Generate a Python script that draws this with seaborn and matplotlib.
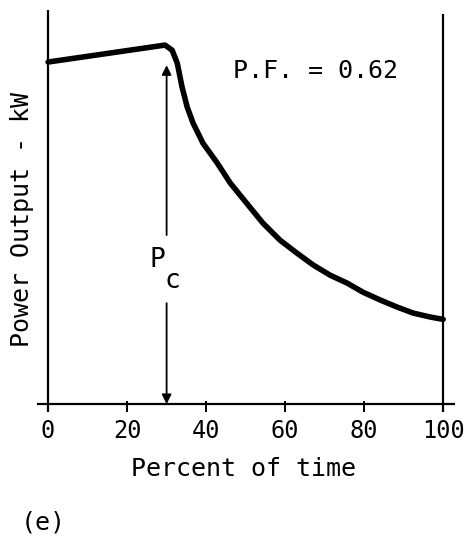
import matplotlib
matplotlib.use("Agg")
import matplotlib.pyplot as plt
import seaborn as sns
import pandas as pd

sns.set_theme(style="white")
plt.rcParams['font.family'] = ['DejaVu Sans Mono', 'DejaVu Sans']
plt.rcParams['text.color'] = 'black'
plt.rcParams['axes.labelcolor'] = 'black'
plt.rcParams['xtick.color'] = 'black'
plt.rcParams['ytick.color'] = 'black'

# Data (percent of time vs. relative power output)
time_pct = [0.0, 29.6, 31.4, 32.7, 33.9, 35.2, 36.7, 39.2, 42.8, 46.1, 50.4,
            54.4, 58.7, 63.0, 67.1, 71.4, 75.7, 79.7, 84.1, 88.4, 92.4, 96.7, 100.0]
power = [86.8, 91.1, 89.8, 86.5, 80.5, 75.4, 71.3, 66.2, 61.2, 56.1, 50.8,
         45.9, 41.6, 38.3, 35.3, 32.7, 30.7, 28.4, 26.4, 24.6, 23.1, 22.1, 21.5]
xticks = [0, 20, 40, 60, 80, 100]
pc_x = 30.0
pc_top = 86.0
gap_top = 42.9
gap_bottom = 25.6

df = pd.DataFrame({"t": time_pct, "p": power})

fig = plt.figure(figsize=(4.71, 5.53), dpi=100)
ax = fig.add_axes([0.0786, 0.2550, 0.8875, 0.7269])

sns.lineplot(data=df, x="t", y="p", ax=ax, color="black", linewidth=4.0,
             solid_capstyle="round", solid_joinstyle="round")

ax.set_xlim(-2.8, 103)
ax.set_ylim(-2.0, 100)
for s in ax.spines.values():
    s.set_visible(False)

# axes lines
ax.axhline(0, color="black", linewidth=1.6)
ax.vlines([0], -2.0, 100, color="black", linewidth=1.6)
ax.vlines([100], -2.0, 99, color="black", linewidth=1.6)

ax.set_xticks(xticks)
ax.set_xticklabels([str(v) for v in xticks])
ax.set_yticks([])
ax.tick_params(axis="x", direction="in", length=8, width=1.4, color="black",
               pad=5, labelsize=17, bottom=True, labelcolor="black")

ax.set_xlabel("Percent of time", fontsize=18, labelpad=0, color="black")
ax.xaxis.set_label_coords(0.495, -0.113)
ax.set_ylabel("Power Output - kW", fontsize=18, va="center", color="black")
ax.yaxis.set_label_coords(-0.036, 0.48)

# Pc arrows
ax.annotate("", xy=(pc_x, pc_top), xytext=(pc_x, gap_top),
            arrowprops=dict(arrowstyle="-|>", color="black", lw=1.3,
                            mutation_scale=14, shrinkA=0, shrinkB=0))
ax.annotate("", xy=(pc_x, 0), xytext=(pc_x, gap_bottom),
            arrowprops=dict(arrowstyle="-|>", color="black", lw=1.3,
                            mutation_scale=14, shrinkA=0, shrinkB=0))
ax.text(27.8, 36.5, "P", fontsize=19, ha="center", va="center", color="black")
ax.text(31.4, 31.2, "c", fontsize=19, ha="center", va="center", color="black")

ax.text(67.8, 84.5, "P.F. = 0.62", fontsize=18, ha="center", va="center",
        color="black")

fig.text(0.092, 0.056, "(e)", fontsize=18, ha="center", va="center",
         color="black")

fig.savefig("out.png", dpi=100, facecolor="white")
